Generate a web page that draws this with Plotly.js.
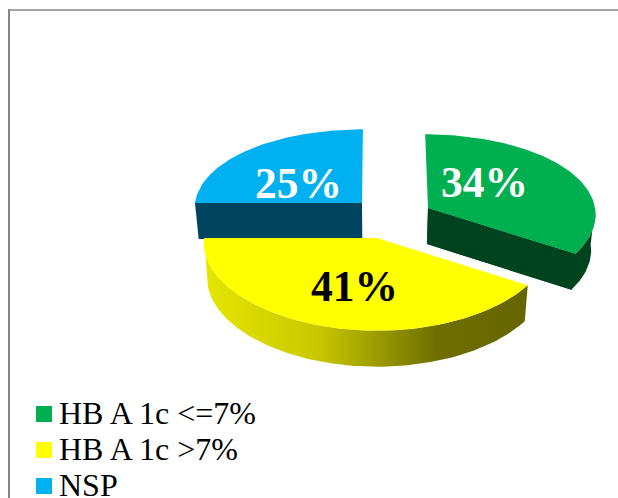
<!DOCTYPE html>
<html>
<head>
<meta charset="utf-8">
<script src="https://cdn.plot.ly/plotly-3.0.1.min.js"></script>
<style>html,body{margin:0;padding:0;background:#fff}#chart{width:618px;height:498px}</style>
</head>
<body>
<div id="chart"></div>
<script>
// Series
const categories = ['HB A 1c <=7%', 'HB A 1c >7%', 'NSP'];
const values = [34, 41, 25];

// Per-slice colours
const topColors = ['#00B050', '#FFFF00', '#00B0F0'];
const labelColors = ['#FFFFFF', '#000000', '#FFFFFF'];
const wallColors = ['#00441F', '#666600', '#004460'];
const frontWallRamp = [[0, '#E6E600'], [0.35, '#C8C800'], [0.72, '#6E6E00'], [1, '#666600']];

// Exploded-slice apex in pixels and scale of each slice
const apexX = [428, 377, 362];
const apexY = [208, 238, 203];
const sliceScaleX = [1, 1.035, 1];
const sliceScaleY = [1, 1.03, 1];
const labelPos = [[484, 182], [354, 286], [298, 183]];

// 3D pie projection parameters
const vanishX = 378, radiusX = 167, radiusY = 81, perspY = 0.1, perspX = 0.06, depth = 36, floorShrink = 0.98;
const legendX = 44, legendTextX = 59;
const legendY = [414, 450, 486];

// Projects a point at clockwise angle deg (0 = up) and radius r of slice i; drop lowers it to the pie floor
function project(i, deg, r, drop) {
  const t = deg * Math.PI / 180;
  const u = Math.sin(t) * r, v = Math.cos(t) * r;
  let x = (apexX[i] - vanishX + radiusX * sliceScaleX[i] * u) / (1 + perspX * v);
  const y = apexY[i] - radiusY * sliceScaleY[i] * v / (1 + perspY * v) + (drop ? depth : 0);
  if (drop) x *= floorShrink;
  return [vanishX + x, y];
}

function arc(i, a0, a1, drop) {
  const pts = [];
  const n = Math.max(2, Math.ceil(Math.abs(a1 - a0)));
  for (let j = 0; j <= n; j++) pts.push(project(i, a0 + (a1 - a0) * j / n, 1, drop));
  return pts;
}

function polygon(pts, extra) {
  return Object.assign({
    x: pts.map(p => p[0]), y: pts.map(p => p[1]),
    type: 'scatter', mode: 'lines', fill: 'toself',
    line: { width: 0 }, hoverinfo: 'skip', showlegend: false
  }, extra);
}

const total = values.reduce((a, b) => a + b, 0);
const starts = [];
values.reduce((acc, v, i) => { starts[i] = acc; return acc + v / total * 360; }, 0);

const data = [];
// Back to front: NSP, then the first slice, then the large front slice
[2, 0, 1].forEach(i => {
  const a0 = starts[i], a1 = a0 + values[i] / total * 360;
  const topApex = project(i, a0, 0, false);
  const floorApex = project(i, a0, 0, true);

  if (i === 2) {
    // flat radial wall along the left edge of the slice
    const a = project(i, a0, 1, false), b = project(i, a0, 1, true);
    data.push(polygon([a, topApex, floorApex, b], { fillcolor: wallColors[i] }));
  }
  if (i === 0) {
    // radial wall on the closing edge and curved wall as one flat-toned outline
    const rim = arc(i, 90, a1, false);
    const floor = arc(i, a1, 90, true);
    data.push(polygon(rim.concat([topApex, floorApex], floor), { fillcolor: wallColors[i] }));
    data.push(polygon([topApex, project(i, a1, 1, false), project(i, a1, 1, true), floorApex], { fillcolor: wallColors[i] }));
  }
  if (i === 1) {
    // curved front wall with a horizontal shading ramp
    const top = arc(i, a0, a1, false), floor = arc(i, a1, a0, true);
    const xs = top.concat(floor).map(p => p[0]);
    data.push(polygon(top.concat(floor), {
      fillcolor: wallColors[i],
      fillgradient: {
        type: 'horizontal',
        start: Math.min(...xs), stop: Math.max(...xs),
        colorscale: frontWallRamp
      }
    }));
  }
  // top face
  data.push(polygon([topApex].concat(arc(i, a0, a1, false)), { fillcolor: topColors[i] }));
});

// Legend swatches
data.push({
  x: categories.map(() => legendX), y: legendY,
  type: 'scatter', mode: 'markers',
  marker: { symbol: 'square', size: 16, color: topColors, line: { width: 0 } },
  hoverinfo: 'skip', showlegend: false, cliponaxis: false
});

const serif = '"Liberation Serif", serif';
const percentLabels = values.map((v, i) => ({
  x: labelPos[i][0], y: labelPos[i][1], xref: 'x', yref: 'y',
  text: '<b>' + v + '%</b>', showarrow: false,
  font: { family: serif, size: 43.5, color: labelColors[i] },
  xanchor: 'center', yanchor: 'middle'
}));
const legendLabels = categories.map((c, i) => ({
  x: legendTextX, y: legendY[i], xref: 'x', yref: 'y',
  text: c.replace(/</g, '&lt;').replace(/>/g, '&gt;'), showarrow: false,
  font: { family: serif, size: 32, color: '#000' },
  xanchor: 'left', yanchor: 'middle', xshift: -2, yshift: 1
}));

const layout = {
  width: 618, height: 498,
  margin: { l: 0, r: 0, t: 0, b: 0 },
  paper_bgcolor: '#fff', plot_bgcolor: '#fff',
  xaxis: { range: [0, 618], visible: false, fixedrange: true },
  yaxis: { range: [498, 0], visible: false, fixedrange: true },
  showlegend: false,
  annotations: percentLabels.concat(legendLabels),
  shapes: [
    { type: 'line', xref: 'x', yref: 'y', x0: 9, x1: 9, y0: 9, y1: 498, line: { color: '#868686', width: 2 } },
    { type: 'line', xref: 'x', yref: 'y', x0: 8, x1: 618, y0: 10, y1: 10, line: { color: '#868686', width: 1.5 } }
  ]
};

Plotly.newPlot('chart', data, layout, { displayModeBar: false, staticPlot: true });
</script>
</body>
</html>
